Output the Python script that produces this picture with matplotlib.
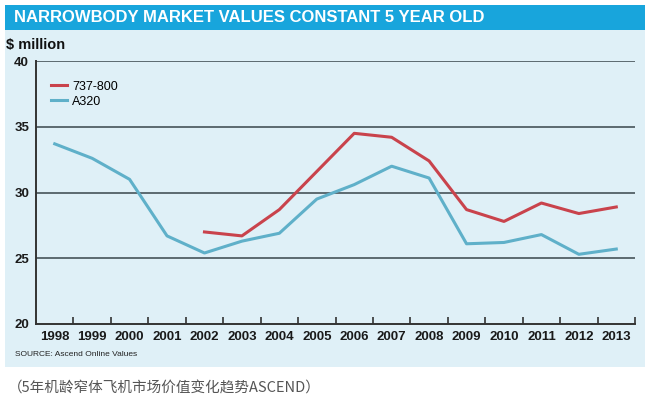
#!/usr/bin/env python3
"""Narrowbody market values, constant 5 year old (Ascend)"""

import matplotlib
matplotlib.use('Agg')
import matplotlib.pyplot as plt
from matplotlib.patches import Rectangle

plt.rcParams['font.family'] = ['Liberation Sans', 'DejaVu Sans']

# Data ($ million)
years = ['1998', '1999', '2000', '2001', '2002', '2003', '2004', '2005',
         '2006', '2007', '2008', '2009', '2010', '2011', '2012', '2013']
b737_years = years[4:]
b737_values = [27.0, 26.7, 28.7, 31.6, 34.5, 34.2, 32.4, 28.7, 27.8, 29.2, 28.4, 28.9]
a320_values = [33.7, 32.6, 31.0, 26.7, 25.4, 26.3, 26.9, 29.5, 30.6, 32.0, 31.1,
               26.1, 26.2, 26.8, 25.3, 25.7]
y_ticks = [20, 25, 30, 35, 40]

TITLE = 'NARROWBODY MARKET VALUES CONSTANT 5 YEAR OLD'
CAPTION = '（5年机龄窄体飞机市场价值变化趋势ASCEND）'

W, H = 658, 399
RED = '#c9434c'
BLUE = '#5fb0c9'
GRID = '#5c6a70'

fig = plt.figure(figsize=(W / 100, H / 100), dpi=100)


def fx(px):
    return px / W


def fy(py):
    return 1 - py / H


# header band and light-blue panel
fig.patches.append(Rectangle((fx(5), fy(30)), fx(640), 25 / H, transform=fig.transFigure,
                             facecolor='#18a5dc', edgecolor='none', zorder=-10))
fig.patches.append(Rectangle((fx(5), fy(367)), fx(640), 337 / H, transform=fig.transFigure,
                             facecolor='#dff0f7', edgecolor='none', zorder=-10))

fig.text(fx(14), fy(17.5), TITLE, color='white', fontsize=12, fontweight='bold',
         va='center', ha='left')
fig.text(fx(6), fy(45), '$ million', color='#111111', fontsize=10.5, fontweight='bold',
         va='center', ha='left')

ax = fig.add_axes([fx(36), fy(324), fx(635 - 36), (324 - 61) / H])
ax.set_facecolor('none')

x_all = list(range(len(years)))
x_737 = [years.index(y) for y in b737_years]

for yv in y_ticks[1:]:
    ax.axhline(yv, color=GRID, linewidth=1.4, zorder=1)

ax.plot(x_737, b737_values, color=RED, linewidth=2.2, label='737-800', zorder=3)
ax.plot(x_all, a320_values, color=BLUE, linewidth=2.2, label='A320', zorder=3)

ax.set_xlim(-0.5, len(years) - 0.5)
ax.set_ylim(20, 40)

# ticks at year boundaries, labels centred in each year
ax.set_xticks([i + 0.5 for i in x_all])
ax.set_xticklabels([])
ax.set_xticks(x_all, minor=True)
ax.set_xticklabels(years, minor=True, fontsize=9.5, fontweight='bold', color='#1a1a1a')
ax.tick_params(axis='x', which='major', direction='in', length=5, width=1.2, color='#333333')
ax.tick_params(axis='x', which='minor', length=0, pad=5)
ax.set_yticks(y_ticks)
ax.set_yticklabels([str(v) for v in y_ticks], fontsize=9.5, fontweight='bold', color='#1a1a1a')
ax.tick_params(axis='y', length=0, pad=5)

for side in ['top', 'right']:
    ax.spines[side].set_visible(False)
for side in ['left', 'bottom']:
    ax.spines[side].set_color('#333333')
    ax.spines[side].set_linewidth(1.4)

ax.legend(loc='upper left', bbox_to_anchor=(0.025, 0.925), frameon=False,
          fontsize=9, handlelength=1.25, handletextpad=0.45, labelspacing=0.25,
          borderaxespad=0, borderpad=0)

fig.text(fx(15), fy(354), 'SOURCE: Ascend Online Values', fontsize=6, color='#222222',
         va='center', ha='left')
fig.text(fx(8), fy(388), CAPTION, fontsize=10.5, color='#555555', va='center', ha='left',
         family=['Noto Sans CJK SC', 'DejaVu Sans'])

fig.savefig('out.png', dpi=100)
